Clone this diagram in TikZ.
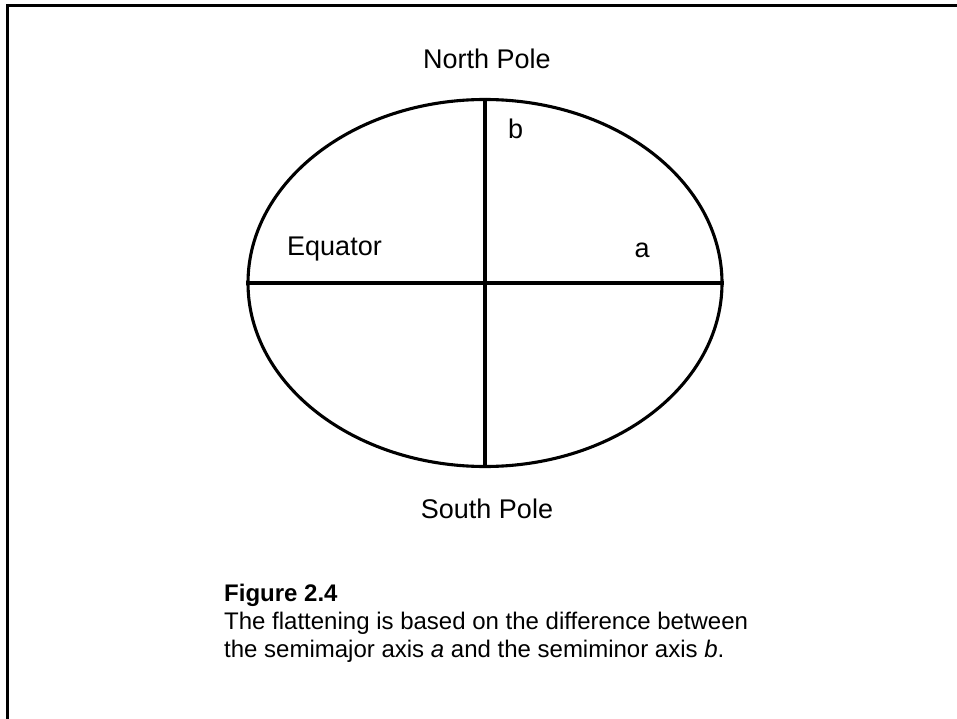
\documentclass[tikz,border=0pt]{standalone}
\usepackage{fontspec}
\setmainfont{Liberation Sans}
\usetikzlibrary{shapes.geometric}
\begin{document}
\begin{tikzpicture}[x=1pt,y=-1pt,
  lbl/.style={font=\fontsize{27}{32}\selectfont, inner sep=0pt, anchor=base},
  captext/.style={font=\fontsize{24}{28}\selectfont, inner sep=0pt, anchor=base west},
  axisline/.style={line width=3.1pt},
  framel/.style={line width=3.4pt}]
\useasboundingbox (0,0) rectangle (957,719);
\coordinate (fbl) at (7.5,719);
\coordinate (ftl) at (7.5,5.5);
\coordinate (ftr) at (957,5.5);
\draw[framel] (fbl) -- (ftl) -- (ftr);
\node[draw, axisline, ellipse, minimum width=474pt, minimum height=367pt, inner sep=0pt] (E) at (485,283) {};
\draw[axisline] (E.west) -- (E.east);
\draw[axisline] (E.north) -- (E.south);
\node[lbl] (np) at (487,69) {North Pole};
\node[lbl] (sp) at (487,518) {South Pole};
\node[lbl, anchor=base west] (eq) at (287,255) {Equator};
\node[lbl] (a) at (642,257) {a};
\node[lbl, anchor=base west] (b) at (508,139) {b};
\node[captext] (c1) at (224,601) {\bfseries Figure 2.4};
\node[captext] (c2) at (224,629) {The flattening is based on the difference between};
\node[captext] (c3) at (224,657) {the semimajor axis \textit{a} and the semiminor axis \textit{b}.};
\end{tikzpicture}
\end{document}
